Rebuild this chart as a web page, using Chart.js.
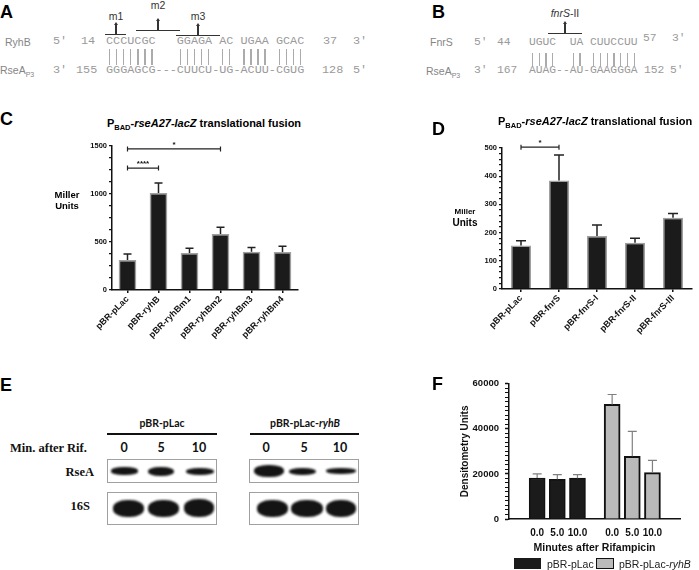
<!DOCTYPE html>
<html>
<head>
<meta charset="utf-8">
<script src="https://cdn.jsdelivr.net/npm/chart.js@4.4.1/dist/chart.umd.min.js"></script>
<style>
html, body { margin: 0; padding: 0; background: #fff; }
#fig { position: relative; width: 699px; height: 570px; overflow: hidden; font-family: "Liberation Sans", Arial, sans-serif; }
.t { position: absolute; white-space: pre; line-height: 1; }
canvas { position: absolute; }
.mono { font-family: "Liberation Mono", monospace; color: #9a9a9a; }
.ln { position: absolute; background: #333; }
.pipe { position: absolute; background: #ababab; width: 1.3px; }
.box { position: absolute; border: 1px solid #a0a0a0; box-sizing: border-box; overflow: hidden; }
.band { position: absolute; background: #141414; border-radius: 45%; filter: blur(1.3px); }
.sb { font-size: 7.5px; vertical-align: -3px; }
.cal { font-family: Lato, "Open Sans", sans-serif; font-weight: bold; color: #111; }
.ser { font-family: "Liberation Serif", serif; font-weight: bold; color: #111; }
</style>
</head>
<body>
<div id="fig">
  <canvas id="chartC" width="250" height="245" style="left:60px;top:135px"></canvas>
  <canvas id="chartD" width="279" height="245" style="left:420px;top:135px"></canvas>
  <canvas id="chartF" width="244" height="184" style="left:455px;top:372px"></canvas>
</div>
<script>
// panel C: PBAD-rseA27-lacZ with ryhB constructs
var cLabels = ["pBR-pLac", "pBR-ryhB", "pBR-ryhBm1", "pBR-ryhBm2", "pBR-ryhBm3", "pBR-ryhBm4"];
var cMeans = [312, 1010, 385, 583, 399, 397];
var cSD = [63, 105, 49, 70, 45, 58];
var cSig = [{ a: 0, b: 1, at: 1270, mark: "****" }, { a: 0, b: 3, at: 1470, mark: "*" }];

// panel D: same fusion with fnrS constructs
var dLabels = ["pBR-pLac", "pBR-fnrS", "pBR-fnrS-I", "pBR-fnrS-II", "pBR-fnrS-III"];
var dMeans = [154, 385, 188, 164, 253];
var dSD = [17, 90, 39, 16, 15];
var dSig = [{ a: 0, b: 1, at: 503, mark: "*" }];

// panel F: RseA densitometry after rifampicin
var fMinutes = [0, 5, 10];
var fLac = [18200, 17600, 18100];
var fLacSD = [1800, 2100, 1600];
var fRyhB = [50800, 27800, 20600];
var fRyhBSD = [4400, 11100, 5400];

Chart.defaults.font.family = "Liberation Sans";
Chart.defaults.color = "#111";

var fig = document.getElementById("fig");

function put(html, x, y, align, css) {
  var d = document.createElement("div");
  d.className = "t";
  d.innerHTML = html;
  var ax = align === "c" ? "-50%" : align === "r" ? "-100%" : "0";
  d.style.cssText = "left:" + x + "px;top:" + y + "px;transform:translate(" + ax + ",-50%);" + (css || "");
  fig.appendChild(d);
  return d;
}

function line(x, y, w, h, color) {
  var d = document.createElement("div");
  d.className = "ln";
  d.style.cssText = "left:" + x + "px;top:" + y + "px;width:" + w + "px;height:" + h + "px;" + (color ? "background:" + color : "");
  fig.appendChild(d);
}

function pipes(x0, top, h, pattern, cw) {
  for (var i = 0; i < pattern.length; i++) {
    if (pattern[i] !== "|") continue;
    var p = document.createElement("div");
    p.className = "pipe";
    p.style.cssText = "left:" + (x0 + i * cw + cw / 2 - 0.6) + "px;top:" + top + "px;height:" + h + "px";
    fig.appendChild(p);
  }
}

function marker(label, cx, ty, x1, x2, by) {
  put(label, cx, ty, "c", "font-size:10.5px;color:#333");
  line(x1, by, x2 - x1, 1.4);
  line(cx - 0.7, by - 10, 1.4, 10);
  var a = document.createElement("div");
  a.style.cssText = "position:absolute;left:" + (cx - 2) + "px;top:" + (by - 12) + "px;width:0;height:0;border-left:2px solid transparent;border-right:2px solid transparent;border-bottom:3px solid #333";
  fig.appendChild(a);
}

// ---- panel A ----
put("A", 0, 11.5, "l", "font-size:18px;font-weight:bold");
var aFs = "font-size:11.8px";
marker("m1", 116, 16, 105, 126, 34);
marker("m2", 158, 5, 136, 180, 30);
marker("m3", 198, 16, 176, 220, 35);
put("RyhB", 5, 42, "l", "font-size:10.5px;color:#858585");
put("5\u2032", 53, 42, "l", aFs).className += " mono";
put("14", 81, 42, "l", aFs).className += " mono";
put("CCCUCGC   GGAGA AC UGAA GCAC", 106, 42, "l", aFs).className += " mono";
put("37", 323, 42, "l", aFs).className += " mono";
put("3\u2032", 353, 42, "l", aFs).className += " mono";
pipes(106, 49, 16, "|||||||   ||||| || |||| ||||", 7.07);
put("RseA<span style='font-size:7px;vertical-align:-3px'>P3</span>", 0, 71, "l", "font-size:10.5px;color:#858585");
put("3\u2032", 53, 71, "l", aFs).className += " mono";
put("155", 76, 71, "l", aFs).className += " mono";
put("GGGAGCG---CUUCU-UG-ACUU-CGUG", 106, 71, "l", aFs).className += " mono";
put("128", 322, 71, "l", aFs).className += " mono";
put("5\u2032", 353, 71, "l", aFs).className += " mono";

// ---- panel B ----
put("B", 432, 11.5, "l", "font-size:18px;font-weight:bold");
var bFs = "font-size:11.3px";
marker("<i>fnrS</i>-II", 565, 13, 548, 582, 32.5);
put("FnrS", 430, 42, "l", "font-size:10.5px;color:#858585");
put("5\u2032", 474, 43, "l", bFs).className += " mono";
put("44", 497, 43, "l", bFs).className += " mono";
put("UGUC  UA CUUCCUU", 529, 43, "l", bFs).className += " mono";
put("57", 643, 39, "l", bFs).className += " mono";
put("3\u2032", 672, 39, "l", bFs).className += " mono";
pipes(529, 53, 13, "||||  || |||||||", 6.8);
put("RseA<span style='font-size:7px;vertical-align:-3px'>P3</span>", 426, 72, "l", "font-size:10.5px;color:#858585");
put("3\u2032", 474, 71, "l", bFs).className += " mono";
put("167", 497, 71, "l", bFs).className += " mono";
put("AUAG--AU-GAAGGGA", 529, 71, "l", bFs).className += " mono";
put("152", 644, 71, "l", bFs).className += " mono";
put("5\u2032", 670, 71, "l", bFs).className += " mono";

// ---- panel C / D headings ----
var title = "P<span class='sb'>BAD</span>-<i>rseA27-lacZ</i> translational fusion";
put("C", 0, 118.5, "l", "font-size:18px;font-weight:bold");
put(title, 204, 125, "c", "font-size:11px;font-weight:bold");
put("Miller", 67, 195, "c", "font-size:9.5px;font-weight:bold");
put("Units", 67, 206, "c", "font-size:9.5px;font-weight:bold");
put("D", 432, 129, "l", "font-size:18px;font-weight:bold");
put(title, 498, 123, "l", "font-size:11px;font-weight:bold");
put("Miller", 465, 212, "c", "font-size:8px;font-weight:bold");
put("Units", 465, 223, "c", "font-size:10px;font-weight:bold");

// ---- panel E (blot) ----
put("E", 0, 385, "l", "font-size:18px;font-weight:bold");
put("pBR-pLac", 162, 423, "c", "font-size:10.5px").className += " cal";
put("pBR-pLac-<i>ryhB</i>", 305, 423, "c", "font-size:10.5px").className += " cal";
line(107, 433, 110, 2, "#111");
line(250, 433, 109, 2, "#111");
put("Min. after Rif.", 10, 448, "l", "font-size:12.5px").className += " ser";
var laneX = [124, 161, 199, 266, 304, 340];
laneX.forEach(function (x, i) {
  put(String(fMinutes[i % 3]), x, 448, "c", "font-size:12.5px").className += " cal";
});
put("RseA", 94, 472, "r", "font-size:12.5px").className += " ser";
put("16S", 90, 506, "r", "font-size:12.5px").className += " ser";

var blotLayout = [
  { box: [107, 459, 110, 24], bands: [[110, 470, 27, 8], [147, 470, 26, 9], [185, 470, 28, 7]] },
  { box: [249, 459, 110, 24], bands: [[253, 470, 30, 12], [288, 470, 27, 7], [325, 470, 30, 6]] },
  { box: [107, 492, 110, 33], bands: [[112, 507.5, 31, 17], [147, 507.5, 31, 17], [183, 507, 30, 18]] },
  { box: [249, 492, 110, 33], bands: [[256, 507.5, 31, 17], [290, 507.5, 32, 17], [325, 507.5, 30, 17]] }
];
blotLayout.forEach(function (b) {
  var bx = document.createElement("div");
  bx.className = "box";
  bx.style.cssText = "left:" + b.box[0] + "px;top:" + b.box[1] + "px;width:" + b.box[2] + "px;height:" + b.box[3] + "px";
  fig.appendChild(bx);
  b.bands.forEach(function (s) {
    var d = document.createElement("div");
    d.className = "band";
    d.style.cssText = "left:" + (s[0] - b.box[0]) + "px;top:" + (s[1] - b.box[1] - s[3] / 2) + "px;width:" + s[2] + "px;height:" + s[3] + "px";
    bx.appendChild(d);
  });
});

// ---- panel F headings / legend ----
put("F", 432, 383.5, "l", "font-size:18px;font-weight:bold");
var lg1 = document.createElement("div");
lg1.style.cssText = "position:absolute;left:514px;top:558px;width:27px;height:11px;background:#1b1b1b";
fig.appendChild(lg1);
put("pBR-pLac", 547, 563.5, "l", "font-size:10.5px;color:#222");
var lg2 = document.createElement("div");
lg2.style.cssText = "position:absolute;left:596px;top:558px;width:18px;height:11px;background:#bababa;border:1.5px solid #111;box-sizing:border-box";
fig.appendChild(lg2);
put("pBR-pLac-<i>ryhB</i>", 619, 563.5, "l", "font-size:10.5px;color:#222");

// ---- plugins ----
var errorBars = {
  id: "errorBars",
  afterDatasetsDraw: function (chart, args, opts) {
    var ctx = chart.ctx, y = chart.scales.y;
    ctx.save();
    ctx.strokeStyle = opts.color || "#222";
    ctx.lineWidth = opts.width || 1.5;
    chart.data.datasets.forEach(function (ds, di) {
      if (!ds.sd) return;
      var meta = chart.getDatasetMeta(di);
      meta.data.forEach(function (bar, i) {
        var v = ds.data[i];
        var mean = typeof v === "object" ? v.y : v;
        var top = y.getPixelForValue(mean + ds.sd[i]);
        var hc = (opts.cap || 8) / 2;
        ctx.beginPath();
        ctx.moveTo(bar.x, bar.y);
        ctx.lineTo(bar.x, top);
        ctx.moveTo(bar.x - hc, top);
        ctx.lineTo(bar.x + hc, top);
        ctx.stroke();
      });
    });
    ctx.restore();
  }
};

var sigBars = {
  id: "sigBars",
  afterDraw: function (chart, args, opts) {
    if (!opts.items) return;
    var ctx = chart.ctx, meta = chart.getDatasetMeta(0), y = chart.scales.y;
    ctx.save();
    ctx.strokeStyle = "#222";
    ctx.lineWidth = 1.2;
    ctx.fillStyle = "#111";
    ctx.font = "bold 8px 'Liberation Sans'";
    ctx.textAlign = "center";
    opts.items.forEach(function (it) {
      var xa = meta.data[it.a].x, xb = meta.data[it.b].x, yy = y.getPixelForValue(it.at);
      ctx.beginPath();
      ctx.moveTo(xa, yy); ctx.lineTo(xb, yy);
      ctx.moveTo(xa, yy - 2.5); ctx.lineTo(xa, yy + 2.5);
      ctx.moveTo(xb, yy - 2.5); ctx.lineTo(xb, yy + 2.5);
      ctx.stroke();
      ctx.fillText(it.mark, (xa + xb) / 2, yy - 2);
    });
    ctx.restore();
  }
};

function millerChart(id, labels, means, sd, sig, opt) {
  return new Chart(document.getElementById(id), {
    type: "bar",
    data: {
      labels: labels,
      datasets: [{
        data: means,
        sd: sd,
        backgroundColor: "#1b1b1b",
        borderColor: "#a0a0a0",
        borderWidth: 1.5,
        barPercentage: opt.bar,
        categoryPercentage: 1
      }]
    },
    options: {
      responsive: false,
      animation: false,
      layout: { padding: { top: opt.top, right: opt.right, left: 0, bottom: 0 } },
      plugins: {
        legend: { display: false },
        tooltip: { enabled: false },
        errorBars: { color: "#222", width: 1.5, cap: opt.cap },
        sigBars: { items: sig }
      },
      scales: {
        x: {
          grid: { display: true, drawOnChartArea: false, offset: false, tickLength: 3, color: "#111", lineWidth: 1.5 },
          border: { color: "#111", width: 1.5 },
          ticks: { font: { size: 9, weight: "bold" }, minRotation: 45, maxRotation: 45, padding: 1, autoSkip: false },
          afterFit: function (s) { s.height = opt.xh; }
        },
        y: {
          min: 0,
          max: opt.max,
          grid: { display: true, drawOnChartArea: false, tickLength: 3, color: "#111", lineWidth: 1.3 },
          border: { color: "#111", width: 1.5 },
          ticks: {
            stepSize: opt.minor,
            autoSkip: false,
            padding: 2,
            font: { size: opt.fs, weight: "bold" },
            callback: function (v) { return v % opt.major === 0 ? v : ""; }
          },
          afterFit: function (s) { s.width = opt.yw; }
        }
      }
    },
    plugins: [errorBars, sigBars]
  });
}

millerChart("chartC", cLabels, cMeans, cSD, cSig,
  { bar: 0.57, top: 11, right: 12, xh: 90, yw: 52, max: 1500, minor: 125, major: 500, fs: 7.5, cap: 8 });
millerChart("chartD", dLabels, dMeans, dSD, dSig,
  { bar: 0.53, top: 13, right: 7, xh: 91, yw: 82, max: 500, minor: 20, major: 100, fs: 7.5, cap: 10 });

// F: two groups on a linear axis with a gap between them
var fTickLabels = fMinutes.concat(fMinutes).map(function (m) { return m.toFixed(1); });
var fPos = fTickLabels.map(function (_, i) { return i + (i >= 3 ? 0.72 : 0); });

new Chart(document.getElementById("chartF"), {
  type: "bar",
  data: {
    datasets: [
      {
        label: "pBR-pLac",
        data: fLac.map(function (v, i) { return { x: fPos[i], y: v }; }),
        sd: fLacSD,
        backgroundColor: "#1b1b1b",
        borderColor: "#111",
        borderWidth: 1.5,
        barThickness: 16,
        grouped: false
      },
      {
        label: "pBR-pLac-ryhB",
        data: fRyhB.map(function (v, i) { return { x: fPos[i + 3], y: v }; }),
        sd: fRyhBSD,
        backgroundColor: "#bababa",
        borderColor: "#111",
        borderWidth: 2,
        barThickness: 16,
        grouped: false
      }
    ]
  },
  options: {
    responsive: false,
    animation: false,
    layout: { padding: { top: 10, right: 19, left: 0, bottom: 0 } },
    plugins: {
      legend: { display: false },
      tooltip: { enabled: false },
      errorBars: { color: "#808080", width: 1.2, cap: 9 }
    },
    scales: {
      x: {
        type: "linear",
        min: -0.69,
        max: 6.38,
        afterBuildTicks: function (s) { s.ticks = fPos.map(function (v) { return { value: v }; }); },
        grid: { display: true, drawOnChartArea: false, tickLength: 3, color: "rgba(0,0,0,0)" },
        border: { color: "#111", width: 1.5 },
        ticks: {
          autoSkip: false,
          maxRotation: 0,
          padding: 5,
          font: { size: 10, weight: "bold" },
          callback: function (v, i) { return fTickLabels[i]; }
        },
        title: { display: true, text: "Minutes after Rifampicin", font: { size: 10.5, weight: "bold" }, padding: { top: 0, bottom: 2 } },
        afterFit: function (s) { s.height = 37; }
      },
      y: {
        min: 0,
        max: 60000,
        grid: {
          display: true, drawOnChartArea: false, tickLength: 4, color: "#111",
          tickWidth: function (c) { return c.tick && c.tick.value % 20000 === 0 ? 1.5 : 1; }
        },
        border: { color: "#111", width: 1.5 },
        ticks: {
          stepSize: 2000,
          autoSkip: false,
          padding: 6,
          font: { size: 9.5, weight: "bold" },
          callback: function (v) { return v % 20000 === 0 ? v : ""; }
        },
        title: { display: true, text: "Densitometry Units", font: { size: 10, weight: "bold" }, padding: { top: 4, bottom: 0 } },
        afterFit: function (s) { s.width = 54; }
      }
    }
  },
  plugins: [errorBars]
});
</script>
</body>
</html>
